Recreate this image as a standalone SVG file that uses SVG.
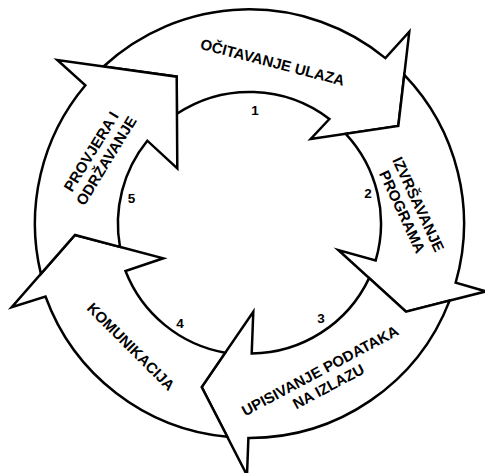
<svg xmlns="http://www.w3.org/2000/svg" width="485" height="473" viewBox="0 0 485 473">
<style>
.arrow{fill:#fff;stroke:#000;stroke-width:2.5;stroke-linejoin:miter;stroke-miterlimit:10}
.lbl{font-family:"Liberation Sans",Arial,sans-serif;font-weight:bold;font-size:15px;fill:#000;text-anchor:middle}
.num{font-family:"Liberation Sans",Arial,sans-serif;font-weight:bold;font-size:13.5px;fill:#000;text-anchor:middle}
</style>
<rect width="485" height="473" fill="#fff"/>
<g id="arrow1">
<path class="arrow" d="M 103.5 66.5 A 214.5 214.5 0 0 1 385.4 58.1 L 409.3 31.7 L 398.3 126 L 310.7 139 L 329.4 119.0 A 131.5 131.5 0 0 0 176.9 113.8 L 176.7 76.7 Z"/>
<text class="lbl" transform="translate(271.2,67.3) rotate(14.5)">OČITAVANJE ULAZA</text>
</g>
<g id="arrow2">
<path class="arrow" d="M 404.3 74.9 A 214.5 214.5 0 0 1 455.7 282.6 L 486 291.4 L 406 311.7 L 338.3 250 L 375.7 260.4 A 131.5 131.5 0 0 0 345.7 133.8 L 398.3 126 Z"/>
<text class="lbl" transform="translate(413.6,206.5) rotate(65)"><tspan x="0" y="0">IZVRŠAVANJE</tspan><tspan x="0" y="17.7">PROGRAMA</tspan></text>
</g>
<g id="arrow3">
<path class="arrow" d="M 449.6 300.6 A 214.5 214.5 0 0 1 248.4 438 L 247 475.2 L 201.7 387 L 253.3 311.7 L 251.7 353.5 A 131.5 131.5 0 0 0 369.1 278.1 L 406 311.7 Z"/>
<text class="lbl" transform="translate(322.5,375.3) rotate(-28)"><tspan x="0" y="0">UPISIVANJE PODATAKA</tspan><tspan x="0" y="17.8">NA IZLAZU</tspan></text>
</g>
<g id="arrow4">
<path class="arrow" d="M 227.3 436.8 A 214.5 214.5 0 0 1 45.5 296.5 L 11.7 307.3 L 75 235 L 163.3 258.3 L 125.5 271 A 131.5 131.5 0 0 0 225.2 352.7 L 201.7 387 Z"/>
<text class="lbl" transform="translate(127.2,350.3) rotate(45)">KOMUNIKACIJA</text>
</g>
<g id="arrow5">
<path class="arrow" d="M 40.9 273.9 A 214.5 214.5 0 0 1 85.4 85.3 L 57.3 60 L 176.7 76.7 L 177.3 168.3 L 147.3 140.7 A 131.5 131.5 0 0 0 120 246.9 L 75 235 Z"/>
<text class="lbl" transform="translate(95.7,154.3) rotate(-58.5)"><tspan x="0" y="0">PROVJERA I</tspan><tspan x="0" y="17.6">ODRŽAVANJE</tspan></text>
</g>
<g id="numbers">
<text class="num" x="255" y="115">1</text>
<text class="num" x="368" y="198">2</text>
<text class="num" x="321" y="323">3</text>
<text class="num" x="180" y="328">4</text>
<text class="num" x="131.5" y="203">5</text>
</g>
</svg>
